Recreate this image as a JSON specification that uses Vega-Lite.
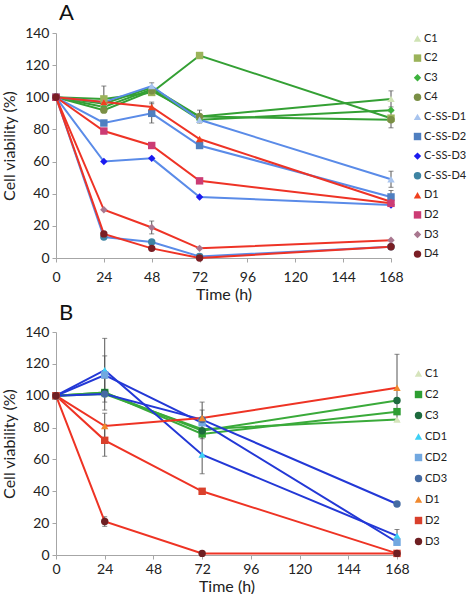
{
  "$schema": "https://vega.github.io/schema/vega-lite/v6.json",
  "padding": {"left": 1, "top": 2, "right": 0, "bottom": 0},
  "spacing": 0,
  "config": {
    "view": {"stroke": null},
    "font": "Lato",
    "axis": {"grid": false, "domainColor": "#A6A6A6", "tickColor": "#A6A6A6", "tickSize": 4, "labelFont": "Lato", "labelFontSize": 14, "labelColor": "#222222", "titleFont": "Lato", "titleFontSize": 16, "titleFontWeight": "normal", "titleColor": "#222222", "labelPadding": 3, "labelFlush": false},
    "legend": {"labelFont": "Lato", "labelFontSize": 11, "labelColor": "#222222", "symbolSize": 55, "symbolStrokeWidth": 0, "labelOffset": 1},
    "title": {"font": "Lato", "fontSize": 22, "fontWeight": "normal", "anchor": "start", "frame": "group", "dx": 3, "offset": 1, "color": "#111111"}
  },
  "datasets": {
    "a": [
      {"series": "C1", "group": "C", "t": 0, "v": 100, "e": 0},
      {"series": "C1", "group": "C", "t": 24, "v": 96, "e": 0},
      {"series": "C1", "group": "C", "t": 48, "v": 106, "e": 3},
      {"series": "C1", "group": "C", "t": 72, "v": 88, "e": 0},
      {"series": "C1", "group": "C", "t": 168, "v": 99, "e": 5},
      {"series": "C2", "group": "C", "t": 0, "v": 100, "e": 0},
      {"series": "C2", "group": "C", "t": 24, "v": 99, "e": 8},
      {"series": "C2", "group": "C", "t": 48, "v": 103, "e": 0},
      {"series": "C2", "group": "C", "t": 72, "v": 126, "e": 0},
      {"series": "C2", "group": "C", "t": 168, "v": 87, "e": 0},
      {"series": "C3", "group": "C", "t": 0, "v": 100, "e": 0},
      {"series": "C3", "group": "C", "t": 24, "v": 94, "e": 0},
      {"series": "C3", "group": "C", "t": 48, "v": 105, "e": 0},
      {"series": "C3", "group": "C", "t": 72, "v": 86, "e": 0},
      {"series": "C3", "group": "C", "t": 168, "v": 92, "e": 0},
      {"series": "C4", "group": "C", "t": 0, "v": 100, "e": 0},
      {"series": "C4", "group": "C", "t": 24, "v": 92, "e": 0},
      {"series": "C4", "group": "C", "t": 48, "v": 104, "e": 0},
      {"series": "C4", "group": "C", "t": 72, "v": 88, "e": 4},
      {"series": "C4", "group": "C", "t": 168, "v": 86, "e": 5},
      {"series": "C-SS-D1", "group": "CSS", "t": 0, "v": 100, "e": 0},
      {"series": "C-SS-D1", "group": "CSS", "t": 24, "v": 97, "e": 0},
      {"series": "C-SS-D1", "group": "CSS", "t": 48, "v": 107, "e": 0},
      {"series": "C-SS-D1", "group": "CSS", "t": 72, "v": 86, "e": 0},
      {"series": "C-SS-D1", "group": "CSS", "t": 168, "v": 49, "e": 5},
      {"series": "C-SS-D2", "group": "CSS", "t": 0, "v": 100, "e": 0},
      {"series": "C-SS-D2", "group": "CSS", "t": 24, "v": 84, "e": 0},
      {"series": "C-SS-D2", "group": "CSS", "t": 48, "v": 90, "e": 6},
      {"series": "C-SS-D2", "group": "CSS", "t": 72, "v": 70, "e": 0},
      {"series": "C-SS-D2", "group": "CSS", "t": 168, "v": 38, "e": 4},
      {"series": "C-SS-D3", "group": "CSS", "t": 0, "v": 100, "e": 0},
      {"series": "C-SS-D3", "group": "CSS", "t": 24, "v": 60, "e": 0},
      {"series": "C-SS-D3", "group": "CSS", "t": 48, "v": 62, "e": 0},
      {"series": "C-SS-D3", "group": "CSS", "t": 72, "v": 38, "e": 0},
      {"series": "C-SS-D3", "group": "CSS", "t": 168, "v": 33, "e": 0},
      {"series": "C-SS-D4", "group": "CSS", "t": 0, "v": 100, "e": 0},
      {"series": "C-SS-D4", "group": "CSS", "t": 24, "v": 13, "e": 0},
      {"series": "C-SS-D4", "group": "CSS", "t": 48, "v": 10, "e": 0},
      {"series": "C-SS-D4", "group": "CSS", "t": 72, "v": 1, "e": 0},
      {"series": "C-SS-D4", "group": "CSS", "t": 168, "v": 7, "e": 0},
      {"series": "D1", "group": "D", "t": 0, "v": 100, "e": 0},
      {"series": "D1", "group": "D", "t": 24, "v": 97, "e": 0},
      {"series": "D1", "group": "D", "t": 48, "v": 94, "e": 3},
      {"series": "D1", "group": "D", "t": 72, "v": 74, "e": 0},
      {"series": "D1", "group": "D", "t": 168, "v": 35, "e": 0},
      {"series": "D2", "group": "D", "t": 0, "v": 100, "e": 0},
      {"series": "D2", "group": "D", "t": 24, "v": 79, "e": 0},
      {"series": "D2", "group": "D", "t": 48, "v": 70, "e": 0},
      {"series": "D2", "group": "D", "t": 72, "v": 48, "e": 0},
      {"series": "D2", "group": "D", "t": 168, "v": 34, "e": 0},
      {"series": "D3", "group": "D", "t": 0, "v": 100, "e": 0},
      {"series": "D3", "group": "D", "t": 24, "v": 30, "e": 0},
      {"series": "D3", "group": "D", "t": 48, "v": 19, "e": 4},
      {"series": "D3", "group": "D", "t": 72, "v": 6, "e": 0},
      {"series": "D3", "group": "D", "t": 168, "v": 11, "e": 0},
      {"series": "D4", "group": "D", "t": 0, "v": 100, "e": 0},
      {"series": "D4", "group": "D", "t": 24, "v": 15, "e": 0},
      {"series": "D4", "group": "D", "t": 48, "v": 6, "e": 0},
      {"series": "D4", "group": "D", "t": 72, "v": 0, "e": 0},
      {"series": "D4", "group": "D", "t": 168, "v": 7, "e": 0}
    ],
    "b": [
      {"series": "C1", "group": "C", "t": 0, "v": 100, "e": 0},
      {"series": "C1", "group": "C", "t": 24, "v": 101, "e": 10},
      {"series": "C1", "group": "C", "t": 72, "v": 79, "e": 6},
      {"series": "C1", "group": "C", "t": 168, "v": 85, "e": 0},
      {"series": "C2", "group": "C", "t": 0, "v": 100, "e": 0},
      {"series": "C2", "group": "C", "t": 24, "v": 102, "e": 0},
      {"series": "C2", "group": "C", "t": 72, "v": 76, "e": 0},
      {"series": "C2", "group": "C", "t": 168, "v": 90, "e": 0},
      {"series": "C3", "group": "C", "t": 0, "v": 100, "e": 0},
      {"series": "C3", "group": "C", "t": 24, "v": 102, "e": 0},
      {"series": "C3", "group": "C", "t": 72, "v": 78, "e": 0},
      {"series": "C3", "group": "C", "t": 168, "v": 97, "e": 0},
      {"series": "CD1", "group": "CD", "t": 0, "v": 100, "e": 0},
      {"series": "CD1", "group": "CD", "t": 24, "v": 116, "e": 20},
      {"series": "CD1", "group": "CD", "t": 72, "v": 63, "e": 12},
      {"series": "CD1", "group": "CD", "t": 168, "v": 12, "e": 4},
      {"series": "CD2", "group": "CD", "t": 0, "v": 100, "e": 0},
      {"series": "CD2", "group": "CD", "t": 24, "v": 113, "e": 12},
      {"series": "CD2", "group": "CD", "t": 72, "v": 83, "e": 8},
      {"series": "CD2", "group": "CD", "t": 168, "v": 8, "e": 0},
      {"series": "CD3", "group": "CD", "t": 0, "v": 100, "e": 0},
      {"series": "CD3", "group": "CD", "t": 24, "v": 101, "e": 0},
      {"series": "CD3", "group": "CD", "t": 72, "v": 85, "e": 0},
      {"series": "CD3", "group": "CD", "t": 168, "v": 32, "e": 0},
      {"series": "D1", "group": "D", "t": 0, "v": 100, "e": 0},
      {"series": "D1", "group": "D", "t": 24, "v": 81, "e": 8},
      {"series": "D1", "group": "D", "t": 72, "v": 86, "e": 10},
      {"series": "D1", "group": "D", "t": 168, "v": 105, "e": 21},
      {"series": "D2", "group": "D", "t": 0, "v": 100, "e": 0},
      {"series": "D2", "group": "D", "t": 24, "v": 72, "e": 10},
      {"series": "D2", "group": "D", "t": 72, "v": 40, "e": 0},
      {"series": "D2", "group": "D", "t": 168, "v": 1, "e": 0},
      {"series": "D3", "group": "D", "t": 0, "v": 100, "e": 0},
      {"series": "D3", "group": "D", "t": 24, "v": 21, "e": 3},
      {"series": "D3", "group": "D", "t": 72, "v": 1, "e": 0},
      {"series": "D3", "group": "D", "t": 168, "v": 1, "e": 0}
    ]
  },
  "vconcat": [
    {
      "title": "A",
      "width": 335,
      "height": 225,
      "data": {"name": "a"},
      "encoding": {
        "x": {"field": "t", "type": "quantitative", "scale": {"domain": [0, 168], "nice": false}, "axis": {"values": [0, 24, 48, 72, 96, 120, 144, 168], "title": "Time (h)", "titlePadding": 2, "labelPadding": 8}},
        "y": {"field": "v", "type": "quantitative", "scale": {"domain": [0, 140], "nice": false}, "axis": {"values": [0, 20, 40, 60, 80, 100, 120, 140], "title": "Cell viability (%)", "titlePadding": 7}}
      },
      "layer": [
        {
          "transform": [{"filter": "datum.e > 0"}],
          "mark": {"type": "errorbar", "ticks": {"size": 5}, "color": "#555555", "thickness": 1},
          "encoding": {"yError": {"field": "e"}}
        },
        {
          "mark": {"type": "line", "strokeWidth": 2},
          "encoding": {
            "stroke": {"field": "group", "type": "nominal", "scale": {"domain": ["C", "CSS", "D"], "range": ["#34A034", "#5A8BE8", "#EE3326"]}, "legend": null},
            "detail": {"field": "series"}
          }
        },
        {
          "mark": {"type": "point", "filled": true, "opacity": 1, "size": 55},
          "encoding": {
            "fill": {"field": "series", "type": "nominal", "scale": {"domain": ["C1", "C2", "C3", "C4", "C-SS-D1", "C-SS-D2", "C-SS-D3", "C-SS-D4", "D1", "D2", "D3", "D4"], "range": ["#CFE3B4", "#9BB35A", "#3DB23D", "#7A8F45", "#A8C4EE", "#4F7FC0", "#1A1AF0", "#3E84A3", "#F0401E", "#CC3C74", "#A9778F", "#7A1E24"]}, "legend": {"title": null, "orient": "right", "offset": 17, "rowPadding": 7.6}},
            "shape": {"field": "series", "type": "nominal", "scale": {"domain": ["C1", "C2", "C3", "C4", "C-SS-D1", "C-SS-D2", "C-SS-D3", "C-SS-D4", "D1", "D2", "D3", "D4"], "range": ["triangle-up", "square", "diamond", "circle", "triangle-up", "square", "diamond", "circle", "triangle-up", "square", "diamond", "circle"]}, "legend": {"title": null, "orient": "right", "offset": 17, "rowPadding": 7.6}}
          }
        }
      ]
    },
    {
      "title": {"text": "B", "offset": 0},
      "width": 341,
      "height": 223,
      "data": {"name": "b"},
      "encoding": {
        "x": {"field": "t", "type": "quantitative", "scale": {"domain": [0, 168], "nice": false}, "axis": {"values": [0, 24, 48, 72, 96, 120, 144, 168], "title": "Time (h)", "titlePadding": 2, "labelPadding": 3}},
        "y": {"field": "v", "type": "quantitative", "scale": {"domain": [0, 140], "nice": false}, "axis": {"values": [0, 20, 40, 60, 80, 100, 120, 140], "title": "Cell viability (%)", "titlePadding": 7}}
      },
      "layer": [
        {
          "transform": [{"filter": "datum.e > 0"}],
          "mark": {"type": "errorbar", "ticks": {"size": 5}, "color": "#555555", "thickness": 1},
          "encoding": {"yError": {"field": "e"}}
        },
        {
          "mark": {"type": "line", "strokeWidth": 2},
          "encoding": {
            "stroke": {"field": "group", "type": "nominal", "scale": {"domain": ["C", "CD", "D"], "range": ["#3AAA3A", "#2338D6", "#EE3324"]}, "legend": null},
            "detail": {"field": "series"}
          }
        },
        {
          "mark": {"type": "point", "filled": true, "opacity": 1, "size": 55},
          "encoding": {
            "fill": {"field": "series", "type": "nominal", "scale": {"domain": ["C1", "C2", "C3", "CD1", "CD2", "CD3", "D1", "D2", "D3"], "range": ["#D6E4BC", "#2E9E32", "#1E6B3E", "#3DD0F5", "#72A8E0", "#456BA3", "#F0892E", "#D9402C", "#6E1F22"]}, "legend": {"title": null, "orient": "none", "legendX": 357, "legendY": 36, "rowPadding": 9}},
            "shape": {"field": "series", "type": "nominal", "scale": {"domain": ["C1", "C2", "C3", "CD1", "CD2", "CD3", "D1", "D2", "D3"], "range": ["triangle-up", "square", "circle", "triangle-up", "square", "circle", "triangle-up", "square", "circle"]}, "legend": {"title": null, "orient": "none", "legendX": 357, "legendY": 36, "rowPadding": 9}}
          }
        }
      ]
    }
  ],
  "resolve": {"scale": {"fill": "independent", "shape": "independent", "stroke": "independent"}, "legend": {"fill": "independent", "shape": "independent"}}
}
